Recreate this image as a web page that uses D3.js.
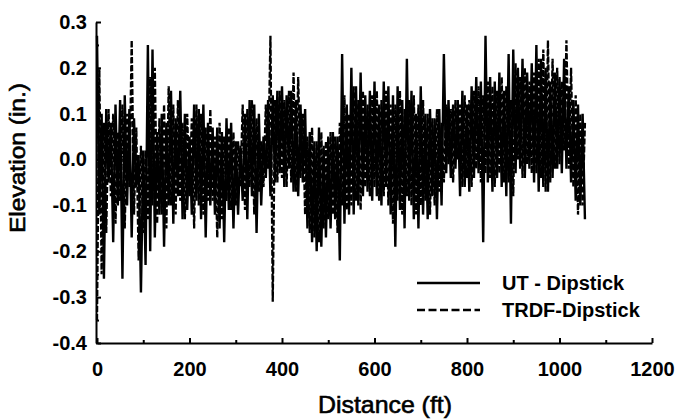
<!DOCTYPE html>
<html><head><meta charset="utf-8">
<script src="https://cdn.jsdelivr.net/npm/d3@7"></script>
<style>html,body{margin:0;padding:0;background:#fff;} svg{display:block;}</style>
</head><body><svg id="chart" width="676" height="419"></svg>
<script>
// sample spacing along the pavement (ft)
const stepFt = 5;

// UT - Dipstick elevations (in.), every 5 ft from 0 ft
const utDipstick = [
  0.27, -0.12, 0.10, -0.26, 0.11, -0.05, 0.08, -0.18, 0.12, -0.10,
  0.13, -0.26, 0.14, -0.10, 0.11, -0.17, 0.09, -0.06, 0.01, -0.29,
  0.02, -0.23, 0.25, -0.20, 0.24, -0.17, 0.06, -0.12, 0.10, -0.19,
  0.08, -0.10, 0.15, -0.14, 0.09, -0.08, 0.15, -0.13, 0.10, -0.11,
  0.05, -0.12, 0.12, -0.09, 0.11, -0.13, 0.12, -0.17, 0.08, -0.10,
  0.07, -0.12, 0.07, -0.15, 0.06, -0.18, 0.09, -0.11, 0.08, -0.15,
  0.04, -0.12, 0.03, -0.09, 0.10, -0.13, 0.13, -0.08, 0.12, -0.16,
  0.10, -0.10, 0.05, -0.04, 0.13, -0.08, 0.14, -0.05, 0.15, -0.03,
  0.16, -0.06, 0.14, -0.02, 0.15, -0.07, 0.13, -0.08, 0.12, -0.05,
  0.11, -0.15, 0.06, -0.18, 0.04, -0.20, 0.07, -0.19, 0.03, -0.17,
  0.05, -0.15, 0.06, -0.13, 0.05, -0.22, 0.23, -0.14, 0.12, -0.12,
  0.20, -0.12, 0.16, -0.10, 0.19, -0.08, 0.14, -0.07, 0.15, -0.09,
  0.17, -0.08, 0.12, -0.10, 0.17, -0.06, 0.16, -0.12, 0.14, -0.19,
  0.16, -0.11, 0.13, -0.15, 0.22, -0.09, 0.15, -0.13, 0.10, -0.15,
  0.16, -0.12, 0.10, -0.13, 0.11, -0.08, 0.09, -0.13, 0.11, -0.10,
  0.23, -0.03, 0.13, -0.04, 0.12, -0.02, 0.13, -0.08, 0.15, -0.06,
  0.12, -0.07, 0.16, -0.04, 0.18, -0.03, 0.17, -0.18, 0.27, -0.05,
  0.18, -0.07, 0.17, -0.04, 0.19, -0.06, 0.15, -0.08, 0.23, -0.14,
  0.24, -0.03, 0.20, -0.02, 0.22, -0.04, 0.19, -0.02, 0.21, -0.05,
  0.25, -0.07, 0.22, -0.06, 0.20, -0.07, 0.17, -0.04, 0.19, -0.02,
  0.18, -0.03, 0.22, -0.02, 0.16, -0.05, 0.13, -0.09, 0.12, -0.10,
  0.10, -0.13
];

// TRDF-Dipstick elevations (in.), every 5 ft from 0 ft
const trdfDipstick = [
  -0.35, 0.20, -0.25, 0.08, -0.16, 0.11, -0.08, 0.10, -0.14, 0.06,
  -0.09, 0.12, -0.15, 0.10, -0.06, 0.26, -0.12, 0.07, -0.22, 0.03,
  -0.16, 0.02, -0.13, 0.18, -0.10, 0.20, -0.14, 0.09, -0.12, 0.12,
  -0.15, 0.16, -0.10, 0.12, -0.12, 0.13, -0.09, 0.08, -0.13, 0.10,
  -0.08, 0.09, -0.15, 0.12, -0.10, 0.10, -0.12, 0.07, -0.09, 0.11,
  -0.09, 0.05, -0.17, 0.08, -0.13, 0.05, -0.09, 0.07, -0.11, 0.06,
  -0.10, 0.04, -0.06, 0.12, -0.11, 0.11, -0.06, 0.13, -0.12, 0.09,
  -0.07, 0.04, -0.06, 0.12, -0.02, 0.27, -0.31, 0.13, -0.05, 0.15,
  -0.04, 0.13, -0.06, 0.15, -0.05, 0.19, -0.07, 0.18, -0.04, 0.10,
  -0.12, 0.05, -0.16, 0.07, -0.17, 0.04, -0.18, 0.06, -0.15, 0.04,
  -0.13, 0.06, -0.12, 0.05, -0.16, 0.08, -0.10, 0.14, -0.11, 0.10,
  -0.10, 0.16, -0.09, 0.13, -0.11, 0.15, -0.06, 0.12, -0.08, 0.14,
  -0.06, 0.15, -0.09, 0.13, -0.08, 0.15, -0.10, 0.12, -0.14, 0.12,
  -0.09, 0.15, -0.12, 0.11, -0.08, 0.13, -0.10, 0.14, -0.12, 0.12,
  -0.10, 0.13, -0.09, 0.10, -0.12, 0.09, -0.10, 0.11, -0.07, 0.08,
  -0.05, 0.12, -0.01, 0.11, -0.05, 0.13, 0.00, 0.12, -0.06, 0.14,
  -0.04, 0.13, -0.06, 0.15, -0.02, 0.16, -0.05, 0.14, -0.03, 0.17,
  -0.04, 0.16, -0.06, 0.15, -0.03, 0.18, -0.05, 0.16, -0.05, 0.13,
  -0.08, 0.21, 0.00, 0.18, -0.04, 0.20, -0.01, 0.17, -0.03, 0.19,
  -0.03, 0.22, -0.04, 0.24, -0.07, 0.26, -0.05, 0.22, -0.02, 0.20,
  -0.01, 0.17, 0.02, 0.26, -0.02, 0.20, -0.06, 0.14, -0.12, 0.10,
  -0.10, 0.08
];

const xMajorTicks = [0, 200, 400, 600, 800, 1000, 1200];
const xMinorTicks = [100, 300, 500, 700, 900, 1100];
const yMajorTicks = [0.3, 0.2, 0.1, 0.0, -0.1, -0.2, -0.3, -0.4];
const yTickLabels = ["0.3", "0.2", "0.1", "0.0", "-0.1", "-0.2", "-0.3", "-0.4"];
const yMinorTicks = [0.25, 0.15, 0.05, -0.05, -0.15, -0.25, -0.35];
const seriesNames = ["UT - Dipstick", "TRDF-Dipstick"];
const xTitle = "Distance (ft)";
const yTitle = "Elevation (in.)";

const svg = d3.select("#chart");
const x = d3.scaleLinear().domain([0, 1200]).range([97, 652]);
const y = d3.scaleLinear().domain([-0.4, 0.3]).range([343, 22]);
const FONT = "'Liberation Sans', Arial, Helvetica, sans-serif";

// data lines
const line = d3.line().x((d, i) => x(i * stepFt)).y(d => y(d));
const series = [
  {name: seriesNames[0], values: utDipstick, dash: null, w: 2.4},
  {name: seriesNames[1], values: trdfDipstick, dash: "6,2", w: 2.3}
];
svg.append("g").selectAll("path").data(series).join("path")
  .attr("d", d => line(d.values))
  .attr("fill", "none").attr("stroke", "#000")
  .attr("stroke-width", d => d.w)
  .attr("stroke-linejoin", "miter")
  .attr("stroke-miterlimit", 2)
  .attr("stroke-dasharray", d => d.dash);

// axes
const gx = svg.append("g").attr("transform", `translate(0,${y(-0.4)})`)
  .call(d3.axisBottom(x).tickValues(xMajorTicks).tickSize(-5).tickSizeOuter(0)
    .tickPadding(19).tickFormat(d3.format("d")));
const gxm = svg.append("g").attr("transform", `translate(0,${y(-0.4)})`)
  .call(d3.axisBottom(x).tickValues(xMinorTicks).tickSize(-3).tickSizeOuter(0).tickFormat(""));
gxm.select(".domain").remove();

const gy = svg.append("g").attr("transform", `translate(${x(0) - 1},0)`)
  .call(d3.axisLeft(y).tickValues(yMajorTicks).tickSize(-5).tickSizeOuter(0)
    .tickPadding(9).tickFormat((d, i) => yTickLabels[i]));
const gym = svg.append("g").attr("transform", `translate(${x(0) - 1},0)`)
  .call(d3.axisLeft(y).tickValues(yMinorTicks).tickSize(-3).tickSizeOuter(0).tickFormat(""));
gym.select(".domain").remove();

[gx, gy, gxm, gym].forEach(g => {
  g.selectAll(".domain").attr("stroke", "#000").attr("stroke-width", 2);
  g.selectAll(".tick line").attr("stroke", "#000").attr("stroke-width", 2);
  g.selectAll(".tick text").attr("fill", "#000")
    .style("font-family", FONT).style("font-size", "20px").style("font-weight", "bold");
});

// axis titles
svg.append("text").attr("x", 385).attr("y", 413).attr("text-anchor", "middle")
  .style("font-family", FONT).style("font-size", "24px")
  .attr("stroke", "#000").attr("stroke-width", 0.6)
  .attr("textLength", 134).attr("lengthAdjust", "spacingAndGlyphs")
  .text(xTitle);
svg.append("text").attr("transform", "translate(25,158) rotate(-90)")
  .attr("text-anchor", "middle")
  .style("font-family", FONT).style("font-size", "22px")
  .attr("stroke", "#000").attr("stroke-width", 0.6)
  .attr("textLength", 150).attr("lengthAdjust", "spacingAndGlyphs")
  .text(yTitle);

// legend
const legend = svg.append("g");
series.forEach((s, i) => {
  const ly = 283 + i * 27;
  legend.append("line").attr("x1", 417).attr("x2", 480).attr("y1", ly).attr("y2", ly)
    .attr("stroke", "#000").attr("stroke-width", 2.5).attr("stroke-dasharray", s.dash ? "8,3.5" : null);
  legend.append("text").attr("x", 502).attr("y", ly + 7)
    .style("font-family", FONT).style("font-size", "20px").style("font-weight", "bold")
    .text(s.name);
});
</script>
</body></html>
